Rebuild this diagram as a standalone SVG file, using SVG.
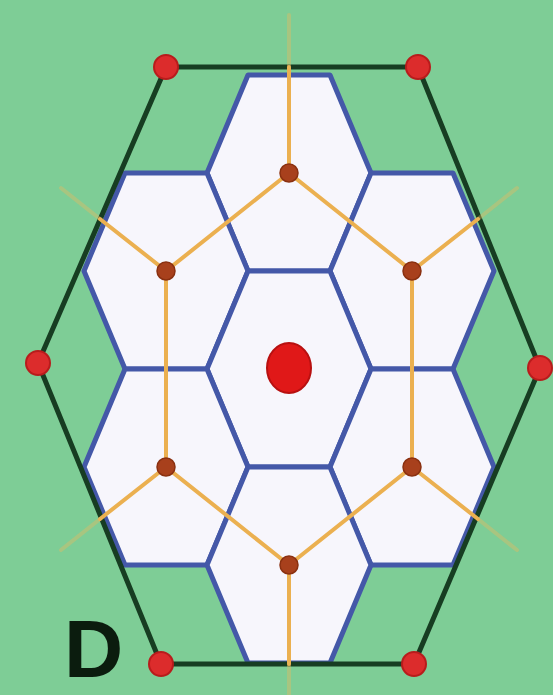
<svg xmlns="http://www.w3.org/2000/svg" width="553" height="695" viewBox="0 0 553 695">
  <style>
    .hex { fill: #f7f6fc; stroke: #4458a8; stroke-width: 5; stroke-linejoin: round; }
    .outer { fill: none; stroke: #173d22; stroke-width: 5; stroke-linejoin: round; }
    .link { stroke: #ebb050; stroke-width: 4; stroke-linecap: round; fill: none; }
    .ray { stroke: #ebb050; stroke-width: 4; stroke-linecap: round; }
    .rayfaint { stroke: #e8b860; stroke-width: 4; stroke-opacity: 0.4; stroke-linecap: round; }
    .vtx { fill: #dc2c2c; stroke: #b81c1c; stroke-width: 2; }
    .site { fill: #a8401c; stroke: #8a3010; stroke-width: 1.5; }
    .label { font-family: "Liberation Sans", Arial, sans-serif; font-weight: bold; font-size: 82px; fill: #0b1c0e; }
  </style>
  <rect x="0" y="0" width="553" height="695" fill="#7ecd96"/>

  <g id="cells">
    <polygon id="hex-top" class="hex" points="207,173 248,75 330,75 371,173 330,271 248,271"/>
    <polygon id="hex-upper-left" class="hex" points="84,271 125,173 207,173 248,271 207,369 125,369"/>
    <polygon id="hex-upper-right" class="hex" points="330,271 371,173 453,173 494,271 453,369 371,369"/>
    <polygon id="hex-center" class="hex" points="207,369 248,271 330,271 371,369 330,467 248,467"/>
    <polygon id="hex-lower-left" class="hex" points="84,467 125,369 207,369 248,467 207,565 125,565"/>
    <polygon id="hex-lower-right" class="hex" points="330,467 371,369 453,369 494,467 453,565 371,565"/>
    <polygon id="hex-bottom" class="hex" points="207,565 248,467 330,467 371,565 330,663 248,663"/>
  </g>

  <g id="outer-hexagon">
    <polygon class="outer" points="166,67 418,67 540,368 414,664 161,664 38,363"/>
  </g>

  <g id="connectors">
    <polyline class="link" points="289,173 412,271 412,467 289,565 166,467 166,271 289,173"/>
    <line class="ray" x1="289" y1="173" x2="289" y2="67"/>
    <line class="rayfaint" x1="289" y1="67" x2="289" y2="15"/>
    <line class="ray" x1="289" y1="565" x2="289" y2="664"/>
    <line class="rayfaint" x1="289" y1="664" x2="289" y2="695"/>
    <line class="ray" x1="166" y1="271" x2="100" y2="219"/>
    <line class="rayfaint" x1="100" y1="219" x2="61" y2="188"/>
    <line class="ray" x1="412" y1="271" x2="478" y2="219"/>
    <line class="rayfaint" x1="478" y1="219" x2="517" y2="188"/>
    <line class="ray" x1="166" y1="467" x2="100" y2="519"/>
    <line class="rayfaint" x1="100" y1="519" x2="61" y2="550"/>
    <line class="ray" x1="412" y1="467" x2="478" y2="519"/>
    <line class="rayfaint" x1="478" y1="519" x2="517" y2="550"/>
  </g>

  <g id="sites">
    <circle class="site" cx="289" cy="173" r="9"/>
    <circle class="site" cx="166" cy="271" r="9"/>
    <circle class="site" cx="412" cy="271" r="9"/>
    <circle class="site" cx="166" cy="467" r="9"/>
    <circle class="site" cx="412" cy="467" r="9"/>
    <circle class="site" cx="289" cy="565" r="9"/>
    <ellipse id="center-site" cx="289" cy="368" rx="22" ry="25" fill="#e01818" stroke="#b81010" stroke-width="2"/>
  </g>

  <g id="outer-vertices">
    <circle class="vtx" cx="166" cy="67" r="12"/>
    <circle class="vtx" cx="418" cy="67" r="12"/>
    <circle class="vtx" cx="540" cy="368" r="12"/>
    <circle class="vtx" cx="414" cy="664" r="12"/>
    <circle class="vtx" cx="161" cy="664" r="12"/>
    <circle class="vtx" cx="38" cy="363" r="12"/>
  </g>

  <text class="label" x="64" y="677">D</text>
</svg>
